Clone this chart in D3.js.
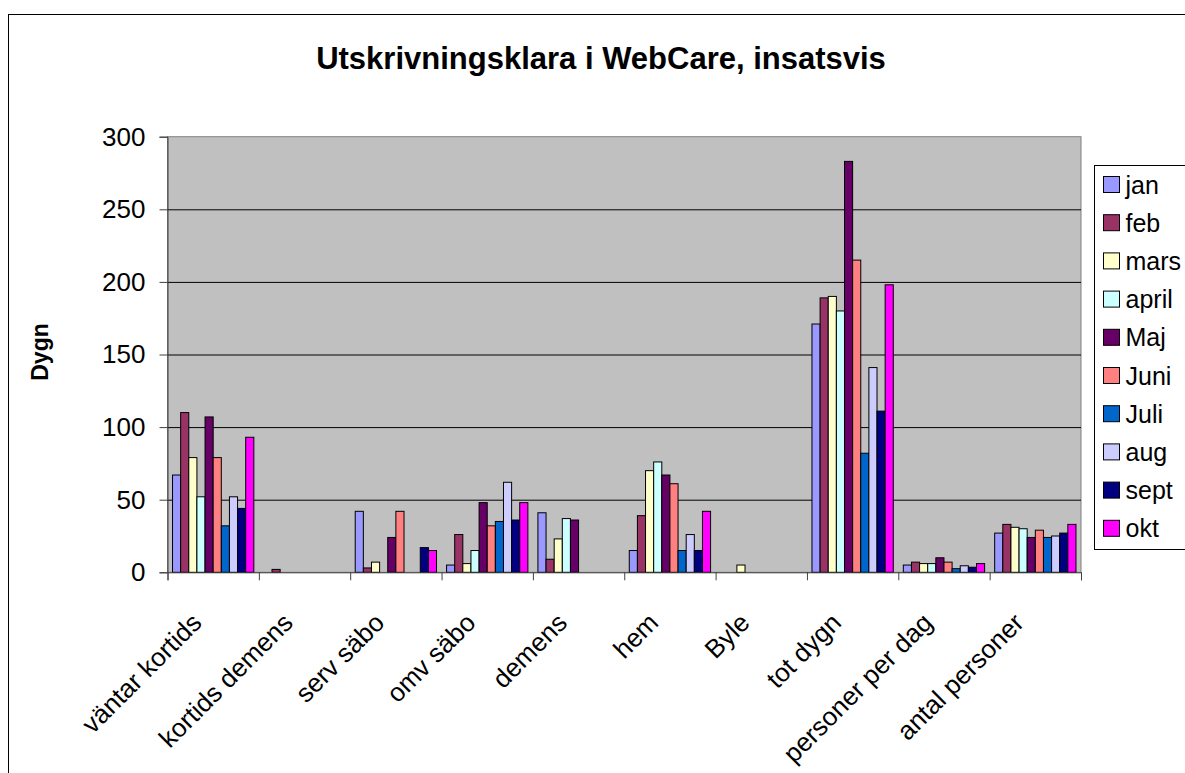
<!DOCTYPE html>
<html>
<head>
<meta charset="utf-8">
<script src="https://cdn.jsdelivr.net/npm/d3@7"></script>
<style>
  body { margin: 0; background: #fff; }
  svg { font-family: Arial, "Liberation Sans", sans-serif; }
  .grid line { stroke: #000; stroke-width: 1; }
  .grid path { display: none; }
</style>
</head>
<body>
<div id="container"></div>
<script>
// chart data
const categories = ["väntar kortids", "kortids demens", "serv säbo", "omv säbo", "demens",
                    "hem", "Byle", "tot dygn", "personer per dag", "antal personer"];
const months = ["jan", "feb", "mars", "april", "Maj", "Juni", "Juli", "aug", "sept", "okt"];
const colors = ["#9999FF", "#993366", "#FFFFCC", "#CCFFFF", "#660066",
                "#FF8080", "#0066CC", "#CCCCFF", "#000080", "#FF00FF"];
const yTicks = [0, 50, 100, 150, 200, 250, 300];

const janVals  = [67, 0, 42, 5, 41, 15, 0, 171, 5, 27];
const febVals  = [110, 2, 3, 26, 9, 39, 0, 189, 7, 33];
const marsVals = [79, 0, 7, 6, 23, 70, 5, 190, 6, 31];
const aprVals  = [52, 0, 0, 15, 37, 76, 0, 180, 6, 30];
const majVals  = [107, 0, 24, 48, 36, 67, 0, 283, 10, 24];
const junVals  = [79, 0, 42, 32, 0, 61, 0, 215, 7, 29];
const julVals  = [32, 0, 0, 35, 0, 15, 0, 82, 2.5, 24];
const augVals  = [52, 0, 0, 62, 0, 26, 0, 141, 4.5, 25];
const sepVals  = [44, 0, 17, 36, 0, 15, 0, 111, 3.5, 27];
const oktVals  = [93, 0, 15, 48, 0, 42, 0, 198, 6, 33];

const seriesVals = [janVals, febVals, marsVals, aprVals, majVals, junVals, julVals, augVals, sepVals, oktVals];

const W = 1185, H = 773;
const plot = { left: 167.5, right: 1081, top: 136.7, bottom: 572.3 };

const svg = d3.select("#container").append("svg")
  .attr("width", W)
  .attr("height", H);

// outer chart border
svg.append("rect")
  .attr("x", 8.5).attr("y", 14.5)
  .attr("width", 1200).attr("height", 800)
  .attr("fill", "#fff").attr("stroke", "#000");

svg.append("text")
  .attr("x", 601).attr("y", 69)
  .attr("text-anchor", "middle")
  .attr("font-size", 31).attr("font-weight", "bold")
  .text("Utskrivningsklara i WebCare, insatsvis");

const x0 = d3.scaleBand()
  .domain(categories)
  .range([plot.left, plot.right])
  .paddingInner(0.11)
  .paddingOuter(0.055);

const x1 = d3.scaleBand()
  .domain(months)
  .range([0, x0.bandwidth()]);

const y = d3.scaleLinear()
  .domain([0, 300])
  .range([plot.bottom, plot.top]);

// plot background
svg.append("rect")
  .attr("x", plot.left).attr("y", plot.top)
  .attr("width", plot.right - plot.left).attr("height", plot.bottom - plot.top)
  .attr("fill", "#C0C0C0").attr("stroke", "#808080");

// horizontal grid lines
svg.append("g")
  .attr("class", "grid")
  .attr("transform", `translate(${plot.left},0)`)
  .call(d3.axisLeft(y)
    .tickValues(yTicks.slice(1, -1))
    .tickSize(-(plot.right - plot.left))
    .tickFormat(""));

// bars
const groups = svg.selectAll(".cat")
  .data(categories)
  .enter().append("g")
  .attr("class", "cat")
  .attr("transform", (c) => `translate(${x0(c)},0)`);

groups.selectAll("rect")
  .data((c, ci) => months.map((m, mi) => ({ m, mi, v: seriesVals[mi][ci] })).filter((d) => d.v > 0))
  .enter().append("rect")
  .attr("x", (d) => x1(d.m))
  .attr("y", (d) => y(d.v))
  .attr("width", x1.bandwidth())
  .attr("height", (d) => y(0) - y(d.v))
  .attr("fill", (d) => colors[d.mi])
  .attr("stroke", "#000")
  .attr("stroke-width", 1);

// y axis
const yAxis = svg.append("g")
  .attr("transform", `translate(${plot.left},0)`)
  .call(d3.axisLeft(y).tickValues(yTicks).tickSize(8).tickPadding(14));
yAxis.select(".domain").attr("stroke", "#404040");
yAxis.selectAll("line").attr("stroke", "#404040");
yAxis.selectAll("text").attr("font-size", 26).attr("fill", "#000")
  .attr("font-family", 'Arial, "Liberation Sans", sans-serif');

// x axis: ticks on category boundaries
const xb = d3.scaleLinear().domain([0, categories.length]).range([plot.left, plot.right]);
const xAxis = svg.append("g")
  .attr("transform", `translate(0,${plot.bottom})`)
  .call(d3.axisBottom(xb).tickValues(d3.range(categories.length + 1)).tickSize(8).tickFormat(""));
xAxis.select(".domain").attr("stroke", "#404040");
xAxis.selectAll("line").attr("stroke", "#404040");

svg.append("g").selectAll("text")
  .data(categories)
  .enter().append("text")
  .attr("font-size", 26)
  .attr("text-anchor", "end")
  .attr("transform", (c) => `translate(${x0(c) + x0.bandwidth() / 2 - 10},${plot.bottom + 52}) rotate(-45)`)
  .text((c) => c);

// y axis title
svg.append("text")
  .attr("transform", "translate(48,352) rotate(-90)")
  .attr("text-anchor", "middle")
  .attr("font-size", 23).attr("font-weight", "bold")
  .text("Dygn");

// legend
const legend = svg.append("g").attr("transform", "translate(1094.5,165.5)");
legend.append("rect")
  .attr("width", 110).attr("height", 384)
  .attr("fill", "#fff").attr("stroke", "#000");

const items = legend.selectAll(".item")
  .data(months)
  .enter().append("g")
  .attr("transform", (m, i) => `translate(9,${19 + i * 38.2})`);
items.append("rect")
  .attr("y", -8).attr("width", 16).attr("height", 16)
  .attr("fill", (m, i) => colors[i]).attr("stroke", "#000");
items.append("text")
  .attr("x", 22).attr("y", 9)
  .attr("font-size", 25)
  .text((m) => m);
</script>
</body>
</html>
